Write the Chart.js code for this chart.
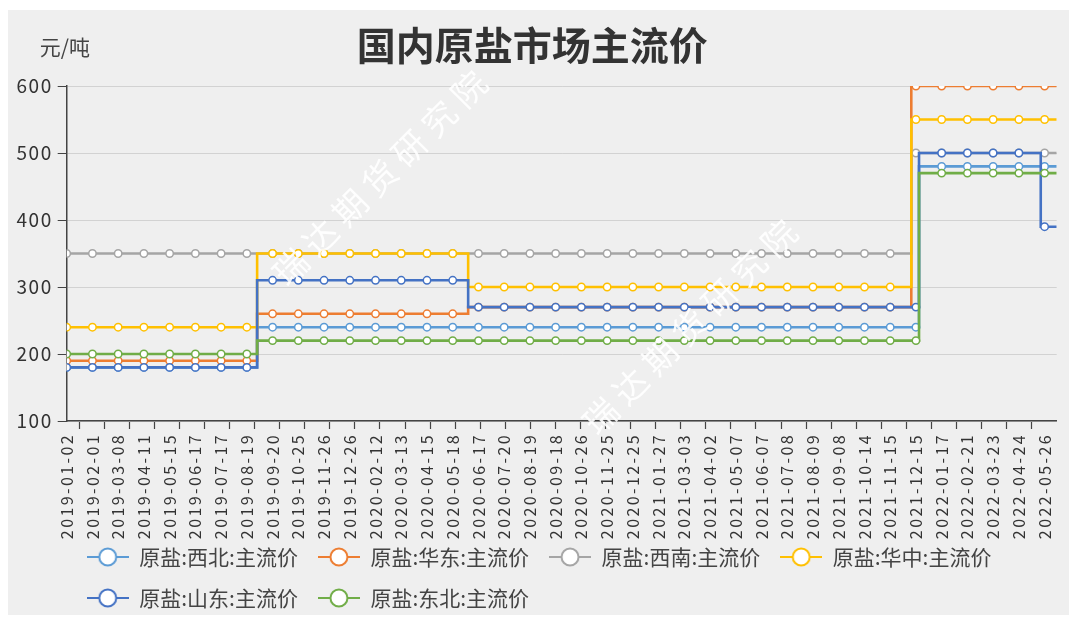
<!DOCTYPE html>
<html><head><meta charset="utf-8">
<style>html,body{margin:0;padding:0;background:#fff;}canvas{display:block;}</style>
<script src="https://cdn.jsdelivr.net/npm/chart.js@4.4.1/dist/chart.umd.min.js"></script>
</head><body>
<canvas id="c" width="1069" height="626" style="width:1069px;height:626px"></canvas>
<script>
const categories = ['2019-01-02','2019-02-01','2019-03-08','2019-04-11','2019-05-15','2019-06-17','2019-07-17','2019-08-19',
  '2019-09-20','2019-10-25','2019-11-26','2019-12-26','2020-02-12','2020-03-13','2020-04-15','2020-05-18',
  '2020-06-17','2020-07-20','2020-08-19','2020-09-18','2020-10-26','2020-11-25','2020-12-25','2021-01-27',
  '2021-03-03','2021-04-02','2021-05-07','2021-06-07','2021-07-08','2021-08-09','2021-09-08','2021-10-14',
  '2021-11-15','2021-12-15','2022-01-17','2022-02-21','2022-03-23','2022-04-24','2022-05-26'];
const seriesNames = ['原盐:西北:主流价','原盐:华东:主流价','原盐:西南:主流价','原盐:华中:主流价','原盐:山东:主流价','原盐:东北:主流价'];
const xibei    = [180,180,180,180,180,180,180,180, 240,240,240,240,240,240,240,240, 240,240,240,240,240,240,240,240,240,240,240,240,240,240,240,240,240,240, 480,480,480,480,480];
const huadong  = [190,190,190,190,190,190,190,190, 260,260,260,260,260,260,260,260, 270,270,270,270,270,270,270,270,270,270,270,270,270,270,270,270,270, 600,600,600,600,600,600];
const xinan    = [350,350,350,350,350,350,350,350, 350,350,350,350,350,350,350,350, 350,350,350,350,350,350,350,350,350,350,350,350,350,350,350,350,350, 500,500,500,500,500,500];
const huazhong = [240,240,240,240,240,240,240,240, 350,350,350,350,350,350,350,350, 300,300,300,300,300,300,300,300,300,300,300,300,300,300,300,300,300, 550,550,550,550,550,550];
const shandong = [180,180,180,180,180,180,180,180, 310,310,310,310,310,310,310,310, 270,270,270,270,270,270,270,270,270,270,270,270,270,270,270,270,270,270, 500,500,500,500, 390];
const dongbei  = [200,200,200,200,200,200,200,200, 220,220,220,220,220,220,220,220, 220,220,220,220,220,220,220,220,220,220,220,220,220,220,220,220,220,220, 470,470,470,470,470];
// where each price changed, in units of the sampled date index (changes fall between sampled dates)
const xibeiChanges    = [7.4, 33.12];
const huadongChanges  = [7.4, 15.6, 32.82];
const xinanChanges    = [32.82];
const huazhongChanges = [7.4, 15.6, 32.82];
const shandongChanges = [7.4, 15.6, 33.12, 37.85];
const dongbeiChanges  = [7.4, 33.12];
const lastDataPos = 38.47;   // last daily observation after the final sampled date
const yTicks = [100, 200, 300, 400, 500, 600];

const FONT = '"Noto Sans CJK SC", "Noto Sans", sans-serif';
const colors = ['#5b9bd5','#ed7d31','#a5a5a5','#ffc000','#4472c4','#70ad47'];
const allValues = [xibei, huadong, xinan, huazhong, shandong, dongbei];
const allChanges = [xibeiChanges, huadongChanges, xinanChanges, huazhongChanges, shandongChanges, dongbeiChanges];

function buildPoints(values, changes) {
  const pts = [];
  values.forEach((v, i) => {
    changes.forEach(c => { if (c > i - 1 && c < i) pts.push({x: c, y: v, m: false}); });
    pts.push({x: i, y: v, m: true});
  });
  pts.push({x: lastDataPos, y: values[values.length - 1], m: false});
  return pts;
}

function legendIcon(color) {
  const c = document.createElement('canvas');
  c.width = 42; c.height = 22;
  const g = c.getContext('2d');
  g.strokeStyle = color; g.lineWidth = 2;
  g.beginPath(); g.moveTo(0, 11); g.lineTo(42, 11); g.stroke();
  g.beginPath(); g.arc(21, 11, 8.5, 0, Math.PI * 2);
  g.fillStyle = '#fff'; g.fill(); g.stroke();
  return c;
}
const icons = colors.map(legendIcon);

const LETTER_SPACING = {x: '2.4px', y: '1.5px'};
class SpacedLinearScale extends Chart.LinearScale {
  _computeLabelArea() { return undefined; }
  drawLabels(area) {
    const ctx = this.ctx;
    ctx.save();
    try { ctx.letterSpacing = LETTER_SPACING[this.id] || '0px'; } catch (e) {}
    super.drawLabels(area);
    ctx.restore();
  }
}
SpacedLinearScale.id = 'spacedLinear';
SpacedLinearScale.defaults = Chart.LinearScale.defaults;
Chart.register(SpacedLinearScale);

const datasets = allValues.map((vals, k) => {
  const pts = buildPoints(vals, allChanges[k]);
  return {
    label: seriesNames[k],
    data: pts,
    borderColor: colors[k],
    backgroundColor: '#fff',
    borderWidth: 2.6,
    stepped: 'before',
    pointRadius: pts.map(p => p.m ? 3.7 : 0),
    pointHoverRadius: pts.map(p => p.m ? 3.7 : 0),
    pointBorderWidth: 1.5,
    pointBackgroundColor: '#fff',
    pointBorderColor: colors[k],
    order: -k,
    xAxisID: 'x',
    yAxisID: 'y'
  };
});

const bgPlugin = {
  id: 'bg',
  beforeDraw(chart) {
    const c = chart.ctx; c.save();
    c.fillStyle = '#efefef';
    c.fillRect(8, 10, chart.width - 8, chart.height - 21);
    c.restore();
  }
};
const unitPlugin = {
  id: 'unit',
  afterDraw(chart) {
    const c = chart.ctx, a = chart.chartArea; c.save();
    c.font = '21px ' + FONT; c.fillStyle = '#444';
    c.textAlign = 'left'; c.textBaseline = 'middle';
    c.fillText('元/吨', a.left - 27, a.top - 39);
    c.restore();
  }
};
const watermarkPlugin = {
  id: 'wm',
  afterDatasetsDraw(chart) {
    const c = chart.ctx, a = chart.chartArea;
    const spots = [[a.left + 313, a.top + 92], [a.left + 623, a.top + 241]];
    c.save();
    c.font = '34px ' + FONT;
    c.fillStyle = 'rgba(255,255,255,0.9)';
    c.textAlign = 'center'; c.textBaseline = 'middle';
    try { c.letterSpacing = '8px'; } catch (e) {}
    spots.forEach(([x, y]) => {
      c.save(); c.translate(x, y); c.rotate(-Math.PI / 4);
      c.fillText('瑞达期货研究院', 4, 0);
      c.restore();
    });
    c.restore();
  }
};

new Chart(document.getElementById('c'), {
  type: 'line',
  data: {datasets},
  plugins: [bgPlugin, unitPlugin, watermarkPlugin],
  options: {
    responsive: false,
    animation: false,
    events: [],
    layout: {padding: {left: 8, right: 12.3, top: 10, bottom: 7.5}},
    plugins: {
      tooltip: {enabled: false},
      title: {
        display: true, text: '国内原盐市场主流价', color: '#333',
        font: {size: 39, weight: 'bold', family: FONT},
        padding: {top: 12.2, bottom: 17}
      },
      legend: {
        position: 'bottom', align: 'start', fullSize: false,
        labels: {
          usePointStyle: true, pointStyleWidth: 42, padding: 20, color: '#444',
          font: {size: 21, family: FONT},
          sort: (a, b) => a.datasetIndex - b.datasetIndex,
          generateLabels: chart => Chart.defaults.plugins.legend.labels.generateLabels(chart)
            .map(it => Object.assign({}, it, {pointStyle: icons[it.datasetIndex]}))
        }
      }
    },
    scales: {
      x: {
        type: 'spacedLinear', position: 'bottom', min: 0, max: lastDataPos, weight: 1,
        afterBuildTicks: s => { s.ticks = categories.map((_, i) => ({value: i})); },
        afterFit: s => { s.height = 97.5; },
        grid: {display: false, drawTicks: false},
        border: {display: false},
        ticks: {
          autoSkip: false, minRotation: 90, maxRotation: 90, padding: 4, color: '#333',
          font: {size: 16, family: FONT},
          callback: v => categories[v] !== undefined ? categories[v] : ''
        }
      },
      xt: {
        type: 'linear', position: 'bottom', min: -0.5, max: 39, weight: 0,
        afterBuildTicks: s => { s.ticks = categories.map((_, i) => ({value: i})); },
        afterFit: s => { s.height = 8; },
        grid: {display: true, drawOnChartArea: false, drawTicks: true, tickLength: 8, tickColor: '#444', tickWidth: 1.2},
        border: {display: true, color: '#444', width: 1.5},
        ticks: {display: false}
      },
      y: {
        type: 'spacedLinear', position: 'left', min: 100, max: 600,
        afterBuildTicks: s => { s.ticks = yTicks.map(v => ({value: v})); },
        afterFit: s => { s.width = 58.7; },
        grid: {color: '#d2d2d2', lineWidth: 1, drawTicks: true, tickLength: 9, tickColor: '#444'},
        border: {display: true, color: '#444', width: 1.5},
        ticks: {padding: 5, color: '#333', font: {size: 19, family: FONT}}
      }
    }
  }
});
</script>
</body></html>
